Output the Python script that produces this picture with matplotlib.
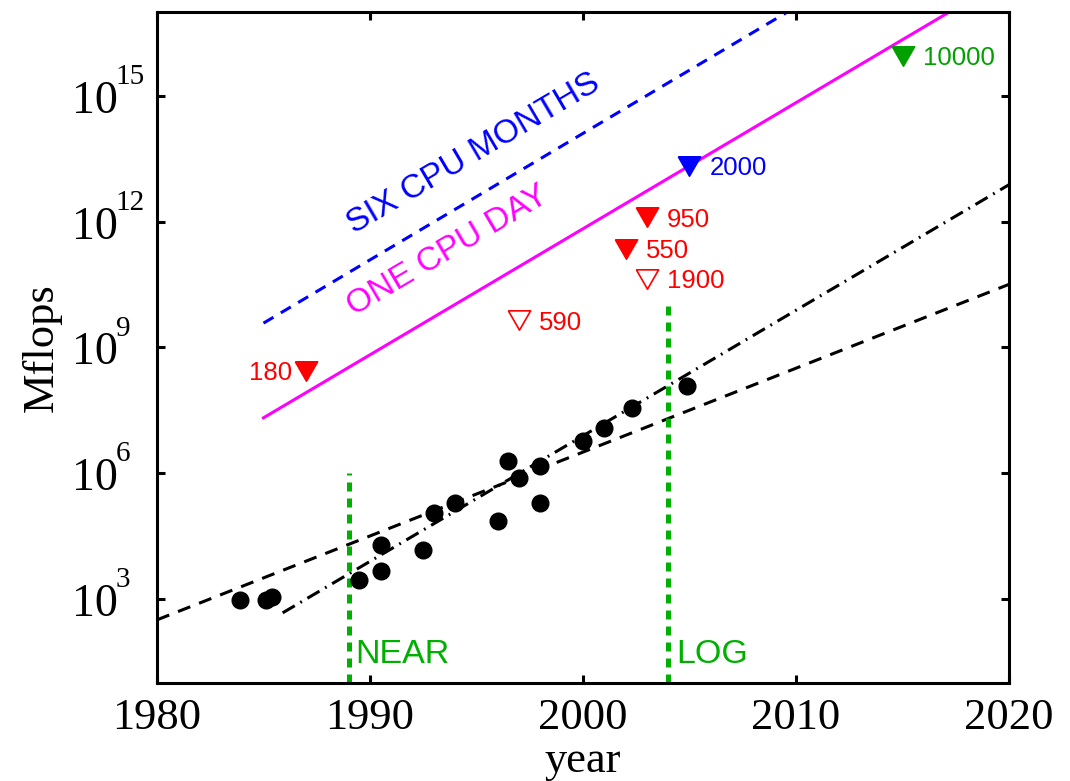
import matplotlib.pyplot as plt
from matplotlib.ticker import NullLocator

# machine speed history (year, Mflops)
dot_year = [1983.9, 1985.1, 1985.4, 1989.5, 1990.5, 1990.5, 1992.5, 1993.0, 1994.0,
            1996.0, 1996.5, 1997.0, 1998.0, 1998.0, 2000.0, 2001.0, 2002.3, 2004.9]
dot_mflops = [9.5e2, 9.5e2, 1.1e3, 2.8e3, 2.0e4, 4.7e3, 1.45e4, 1.1e5, 1.95e5,
              7.4e4, 2.0e6, 7.8e5, 1.5e6, 1.95e5, 5.8e6, 1.2e7, 3.7e7, 1.2e8]

# required Mflops for the marked problems
tri_year = [1987, 1997, 2003, 2002, 2003, 2005, 2015]
tri_mflops = [2.75e8, 4.4e9, 1.26e12, 2.24e11, 4.4e10, 2.1e13, 8.9e15]
tri_label = ['180', '590', '950', '550', '1900', '2000', '10000']
tri_color = ['red', 'red', 'red', 'red', 'red', 'blue', '#00a000']
tri_filled = [True, False, True, True, False, True, True]

# trend lines: (x0, x1), (y0, y1)
fit_slow_x, fit_slow_y = [1980, 2020], [3.2e2, 3.2e10]
fit_fast_x, fit_fast_y = [1985.9, 2020], [4.7e2, 7.6e12]
day_x, day_y = [1985, 2017.2], [2.1e7, 1e17]
months_x, months_y = [1985, 2009.6], [3.8e9, 1e17]

# vertical markers
near_year, near_top = 1989, 1e6
log_year, log_top = 2004, 1e10

green = '#00b000'
plt.rcParams['font.family'] = ['Liberation Serif']

fig = plt.figure(figsize=(10.7, 7.81), dpi=100)
ax = fig.add_axes([0.1467, 0.1255, 0.7963, 0.8592])
ax.set_yscale('log')
ax.set_xlim(1980, 2020)
ax.set_ylim(1e1, 1e17)

ax.plot(fit_slow_x, fit_slow_y, color='black', lw=2.2, linestyle=(0, (4.3, 3.1)))
ax.plot(fit_fast_x, fit_fast_y, color='black', lw=2.2, linestyle=(0, (4.6, 2.1, 0.6, 2.1)))
ax.plot(day_x, day_y, color='#ff00ff', lw=2.2)
ax.plot(months_x, months_y, color='blue', lw=2.2, linestyle=(0, (3.8, 2.8)))

ax.plot([near_year, near_year], [1e1, near_top], color=green, lw=3.6, linestyle=(0, (1.8, 1.4)))
ax.plot([log_year, log_year], [1e1, log_top], color=green, lw=3.6, linestyle=(0, (1.8, 1.4)))

ax.plot(dot_year, dot_mflops, 'o', color='black', ms=12)

# slightly wide downward triangle
tri = [(-1.15, 1), (1.15, 1), (0, -1), (-1.15, 1)]
for yr, v, lab, c, f in zip(tri_year, tri_mflops, tri_label, tri_color, tri_filled):
    ax.plot(yr, v, marker=tri, ms=16, color=c, mec=c, mew=1.2,
            mfc=c if f else 'white', linestyle='none')
    if lab == '180':
        ax.annotate(lab, xy=(yr, v), xytext=(-10, -6.4), textcoords='offset points',
                    ha='right', va='baseline', color=c, fontsize=18.5, family='Liberation Sans')
    else:
        ax.annotate(lab, xy=(yr, v), xytext=(14.4, -6.6), textcoords='offset points',
                    ha='left', va='baseline', color=c, fontsize=18.5, family='Liberation Sans')

ax.text(1994.88, 10**13.62, 'SIX CPU MONTHS', rotation=30.5, rotation_mode='anchor',
        ha='center', va='center', color='blue', fontsize=24, family='Liberation Sans')
ax.text(1993.64, 10**11.30, 'ONE CPU DAY', rotation=30.5, rotation_mode='anchor',
        ha='center', va='center', color='#ff00ff', fontsize=24, family='Liberation Sans')
ax.text(1989.33, 30, 'NEAR', color=green, fontsize=24.5, va='baseline', family='Liberation Sans')
ax.text(2004.40, 30, 'LOG', color=green, fontsize=24.5, va='baseline', family='Liberation Sans')

# axes, ticks
for s in ax.spines.values():
    s.set_linewidth(2.2)
ax.set_xticks([1980, 1990, 2000, 2010, 2020])
exps = [3, 6, 9, 12, 15]
ax.set_yticks([10.0**e for e in exps])
ax.yaxis.set_minor_locator(NullLocator())
ax.tick_params(direction='in', top=True, right=True, length=6, width=2.2,
               labelsize=32, pad=11, labelleft=False)

# power-of-ten labels with a small exponent
for e in exps:
    ax.annotate('10', xy=(0, 10.0**e), xycoords=('axes fraction', 'data'),
                xytext=(-28.3, -12.2), textcoords='offset points',
                ha='right', va='baseline', fontsize=33)
    ax.annotate(str(e), xy=(0, 10.0**e), xycoords=('axes fraction', 'data'),
                xytext=(-29.8, 8.5), textcoords='offset points',
                ha='left', va='baseline', fontsize=21)

ax.set_xlabel('year', fontsize=32)
ax.set_ylabel('Mflops', fontsize=32)
ax.xaxis.set_label_coords(0.5, -0.0864)
ax.yaxis.set_label_coords(-0.1115, 0.5)

fig.savefig('out.png', dpi=100)
